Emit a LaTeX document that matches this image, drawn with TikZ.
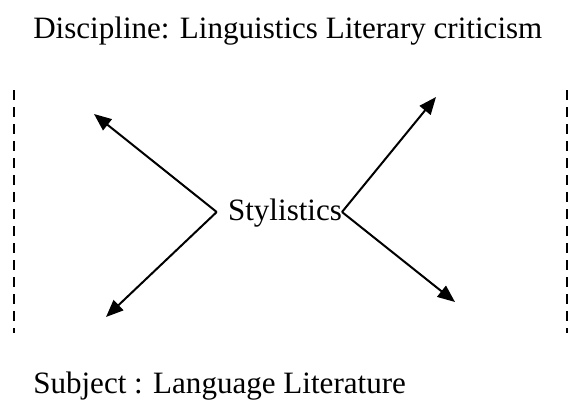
\documentclass[tikz,border=0pt]{standalone}
\usepackage{fontspec}
\setmainfont{Liberation Serif}
\usetikzlibrary{arrows.meta}
\begin{document}
\begin{tikzpicture}[x=0.75pt,y=-0.75pt,
  lbl/.style={inner sep=0pt,font=\fontsize{23.3pt}{28pt}\selectfont},
  arr/.style={line width=1.5pt,-{Triangle[length=13pt,width=10.5pt]}},
  dashline/.style={line width=1.5pt,dash pattern=on 7.5pt off 5.25pt}]
\useasboundingbox (0,0) rectangle (570,408);
\node[lbl,anchor=base west] (top) at (33,38.3) {Discipline: Linguistics Literary criticism};
\node[lbl,anchor=base west] (bot) at (33,393) {Subject : Language Literature};
\node[lbl,anchor=base] (sty) at (285,220.7) {Stylistics};
\coordinate (lv) at (216.7,212);
\coordinate (rv) at (342,212);
\coordinate (ul) at (94,114);
\coordinate (ll) at (106,317);
\coordinate (ur) at (436,97);
\coordinate (lr) at (455,302);
\draw[arr] (lv) -- (ul);
\draw[arr] (lv) -- (ll);
\draw[arr] (rv) -- (ur);
\draw[arr] (rv) -- (lr);
\coordinate (dl1) at (14,90);
\coordinate (dl2) at (14,333);
\coordinate (dr1) at (567,90);
\coordinate (dr2) at (567,333);
\draw[dashline] (dl1) -- (dl2);
\draw[dashline] (dr1) -- (dr2);
\end{tikzpicture}
\end{document}
